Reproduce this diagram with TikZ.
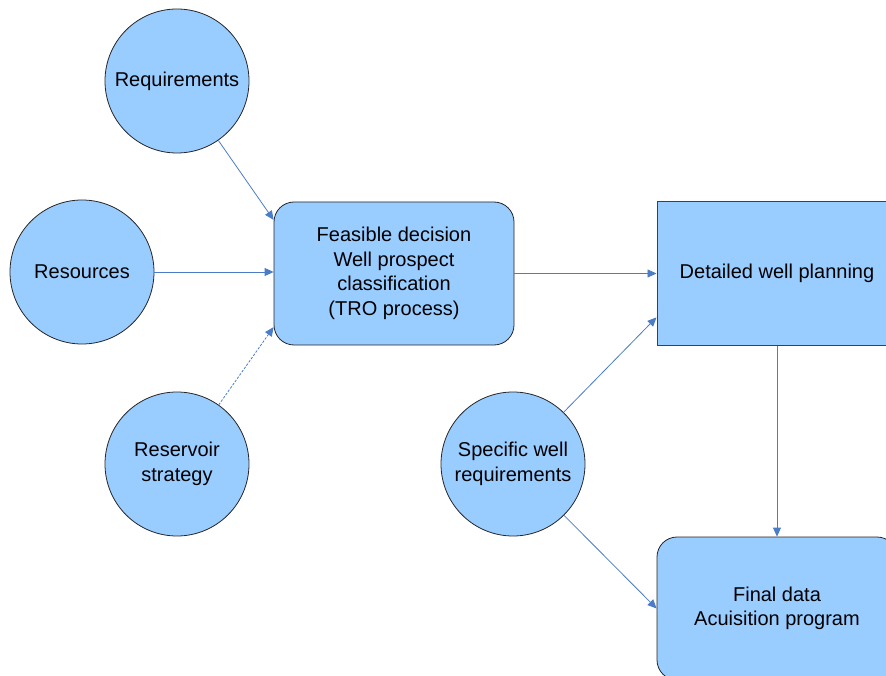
\documentclass[tikz,border=0pt]{standalone}
\usepackage{fontspec}
\setmainfont{Liberation Sans}
\usetikzlibrary{arrows.meta}
\definecolor{nodefill}{HTML}{99CCFF}
\definecolor{linkblue}{HTML}{4A7CC7}
\begin{document}
\begin{tikzpicture}[x=1pt,y=-1pt,
  every node/.style={font=\fontsize{20}{24.5}\selectfont, align=center},
  topic/.style={circle, draw=black!85, line width=0.8pt, fill=nodefill, minimum size=144pt, inner sep=0pt},
  roundbox/.style={rectangle, rounded corners=20pt, draw=black!85, line width=0.8pt, fill=nodefill, minimum width=240pt, minimum height=143pt, inner sep=0pt},
  plainbox/.style={rectangle, draw=black!75, line width=1pt, fill=nodefill, minimum width=240pt, minimum height=143pt, inner sep=0pt},
  link/.style={draw=linkblue, line width=0.8pt, -{Triangle[length=9pt,width=8pt]}},
]
\useasboundingbox (0,0) rectangle (886,676);
\clip (0,0) rectangle (886,676);

\node[topic] (req) at (177,81) {Requirements};
\node[topic] (rsc) at (82,272) {Resources};
\node[topic] (rsv) at (177,464) {Reservoir\\strategy};
\node[topic] (spec) at (513,464) {Specific well\\requirements};

\node[roundbox] (feas) at (394,273.5) {Feasible decision\\Well prospect\\classification\\(TRO process)};
\node[plainbox] (det) at (777,273.5) {Detailed well planning};
\node[roundbox] (fin) at (777,608.5) {Final data\\Acuisition program};

\draw[link] (req) -- (feas.156);
\draw[link] (rsc) -- (rsc -| feas.west);
\draw[link, dashed, dash pattern=on 2.5pt off 1.5pt] (rsv) -- (feas.204);
\draw[link] (feas) -- (det);
\draw[link] (spec) -- (det.200);
\draw[link] (spec) -- (fin.west);
\draw[link] (det) -- (fin);
\end{tikzpicture}
\end{document}
